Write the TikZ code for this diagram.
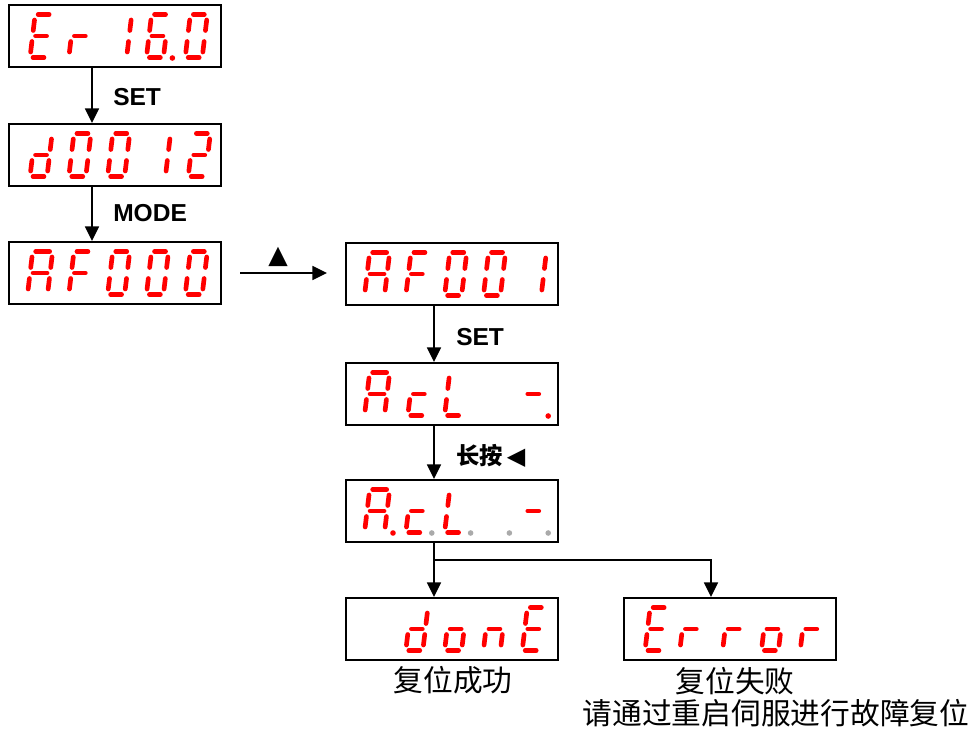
\documentclass[tikz,border=0pt]{standalone}
\usepackage{fontspec}
\setmainfont{Liberation Sans}
\newfontfamily\cjk{Noto Sans CJK SC}
\newfontfamily\symf{DejaVu Sans}
\usetikzlibrary{arrows.meta}
\definecolor{segred}{RGB}{255,0,0}
\definecolor{dpgray}{RGB}{170,170,170}
% seven-segment helpers (local units = px, origin at bottom-left centre line)
\newcommand{\dW}{17}
\newcommand{\sgxa}{\draw (3,-43) -- (\dW-3,-43);}
\newcommand{\sgxg}{\draw (3,-21.5) -- (\dW-3,-21.5);}
\newcommand{\sgxd}{\draw (3,0) -- (\dW-3,0);}
\newcommand{\sgxf}{\draw (0,-37.5) -- (0,-27);}
\newcommand{\sgxb}{\draw (\dW,-37.5) -- (\dW,-27);}
\newcommand{\sgxe}{\draw (0,-16) -- (0,-5.5);}
\newcommand{\sgxc}{\draw (\dW,-16) -- (\dW,-5.5);}
% \dg{box left}{box top}{position}{segments}{width}
\newcommand{\dg}[5]{%
  \begin{scope}[shift={({#1+21+38.8*#3},{#2+52.5})}, xslant=0.12, draw=segred, line width=3.5pt, line cap=round]
    \def\dW{#5}%
    \foreach \s in {#4} {\csname sgx\s\endcsname}
  \end{scope}}
% \dgp{box left}{box top}{position}{colour}
\newcommand{\dgp}[4]{\fill[#4] ({#1+47+38.8*#3},{#2+53}) circle[radius=2.8];}
\tikzset{
  dbox/.style={draw, line width=1.5pt, minimum width=159pt, minimum height=46.5pt, inner sep=0pt},
  arr/.style={line width=1.2pt, -{Triangle[length=11pt,width=10.5pt]}},
  lbl/.style={font=\fontsize{18.4}{22}\selectfont\bfseries, inner sep=0pt, anchor=west},
  captxt/.style={font=\cjk\fontsize{22.3}{26}\selectfont, inner sep=0pt}
}
\begin{document}
\begin{tikzpicture}[x=0.75pt,y=-0.75pt]
\useasboundingbox (0,0) rectangle (976,731);
\fill[white] (0,0) rectangle (976,731);
% columns for connectors
\coordinate (colA) at (92,0);
\coordinate (colB) at (434,0);
\coordinate (colC) at (711,0);
% boxes
\node[dbox] (b1) at (115,36) {};
\node[dbox] (b2) at (115,155) {};
\node[dbox] (b3) at (115,273) {};
\node[dbox] (b4) at (452,274) {};
\node[dbox] (b5) at (452,394) {};
\node[dbox] (b6) at (452,511) {};
\node[dbox] (b7) at (452,629) {};
\node[dbox] (b8) at (730,629) {};
% display 1: Er 16.0
\dg{9}{5}{0}{a,d,e,f,g}{17}
\dg{9}{5}{1}{e,g}{17}
\dg{11}{5}{2}{b,c}{17}
\dg{9}{5}{3}{a,c,d,e,f,g}{17}
\dgp{9}{5}{3}{segred}
\dg{9}{5}{4}{a,b,c,d,e,f}{17}
% display 2: d0012
\dg{9}{124}{0}{b,c,d,e,g}{17}
\dg{9}{124}{1}{a,b,c,d,e,f}{17}
\dg{9}{124}{2}{a,b,c,d,e,f}{17}
\dg{11}{124}{3}{b,c}{17}
\dg{12}{124}{4}{a,b,g,e,d}{17}
% display 3: AF000
\dg{6.5}{242}{0}{a,b,c,e,f,g}{20}
\dg{9}{242}{1}{a,e,f,g}{17}
\dg{9}{242}{2}{a,b,c,d,e,f}{17}
\dg{9}{242}{3}{a,b,c,d,e,f}{17}
\dg{9}{242}{4}{a,b,c,d,e,f}{17}
% display 4: AF001
\dg{343.5}{243}{0}{a,b,c,e,f,g}{20}
\dg{346}{243}{1}{a,e,f,g}{17}
\dg{346}{243}{2}{a,b,c,d,e,f}{17}
\dg{346}{243}{3}{a,b,c,d,e,f}{17}
\dg{348}{243}{4}{b,c}{17}
% display 5: AcL -.
\dg{343.5}{363}{0}{a,b,c,e,f,g}{20}
\dg{348}{363}{1}{d,e,g}{17}
\dg{346}{363}{2}{d,e,f}{17}
\dg{346}{363}{4}{g}{17}
\dgp{346}{363}{4}{segred}
% display 6: A.c.L. . -.
\dg{343.5}{480}{0}{a,b,c,e,f,g}{20}
\dgp{346}{480}{0}{segred}
\dg{346}{480}{1}{d,e,g}{17}
\dgp{346}{480}{1}{dpgray}
\dg{346}{480}{2}{d,e,f}{17}
\dgp{346}{480}{2}{dpgray}
\dgp{346}{480}{3}{dpgray}
\dg{346}{480}{4}{g}{17}
\dgp{346}{480}{4}{dpgray}
% display 7:  donE
\dg{346}{598}{1}{b,c,d,e,g}{17}
\dg{346}{598}{2}{c,d,e,g}{17}
\dg{346}{598}{3}{c,e,g}{17}
\dg{346}{598}{4}{a,d,e,f,g}{17}
% display 8: Error
\dg{624}{598}{0}{a,d,e,f,g}{17}
\dg{620}{598}{1}{e,g}{17}
\dg{624}{598}{2}{e,g}{17}
\dg{624}{598}{3}{c,d,e,g}{17}
\dg{624}{598}{4}{e,g}{17}
% connectors
\draw[arr] (b1.south -| colA) -- (b2.north -| colA);
\draw[arr] (b2.south -| colA) -- (b3.north -| colA);
\draw[arr, shorten <=13.5pt, shorten >=13.5pt] (b3.east) -- (b3.east -| b4.west);
\draw[arr] (b4.south -| colB) -- (b5.north -| colB);
\draw[arr] (b5.south -| colB) -- (b6.north -| colB);
\coordinate (split) at (434,560);
\draw[arr] (b6.south -| colB) -- (b7.north -| colB);
\draw[arr] (split) -- (split -| colC) -- (b8.north -| colC);
% labels
\node[lbl] (l1) at (113,97) {SET};
\node[lbl] (l2) at (113,213) {MODE};
\node[inner sep=0pt, font=\symf\fontsize{19}{22}\selectfont] (l3) at (278,257) {▲};
\node[lbl] (l4) at (456,337) {SET};
\node[lbl] (l5) at (456,456) {{\cjk\bfseries\fontsize{17.5}{21}\selectfont 长按}\hspace{3pt}{\symf\fontsize{18}{21}\selectfont ◀}};
% captions
\node[captxt] (t7) at (453,680) {复位成功};
\node[captxt] (t8) at (735,681) {复位失败};
\node[captxt] (t9) at (776,713) {请通过重启伺服进行故障复位};
\end{tikzpicture}
\end{document}
